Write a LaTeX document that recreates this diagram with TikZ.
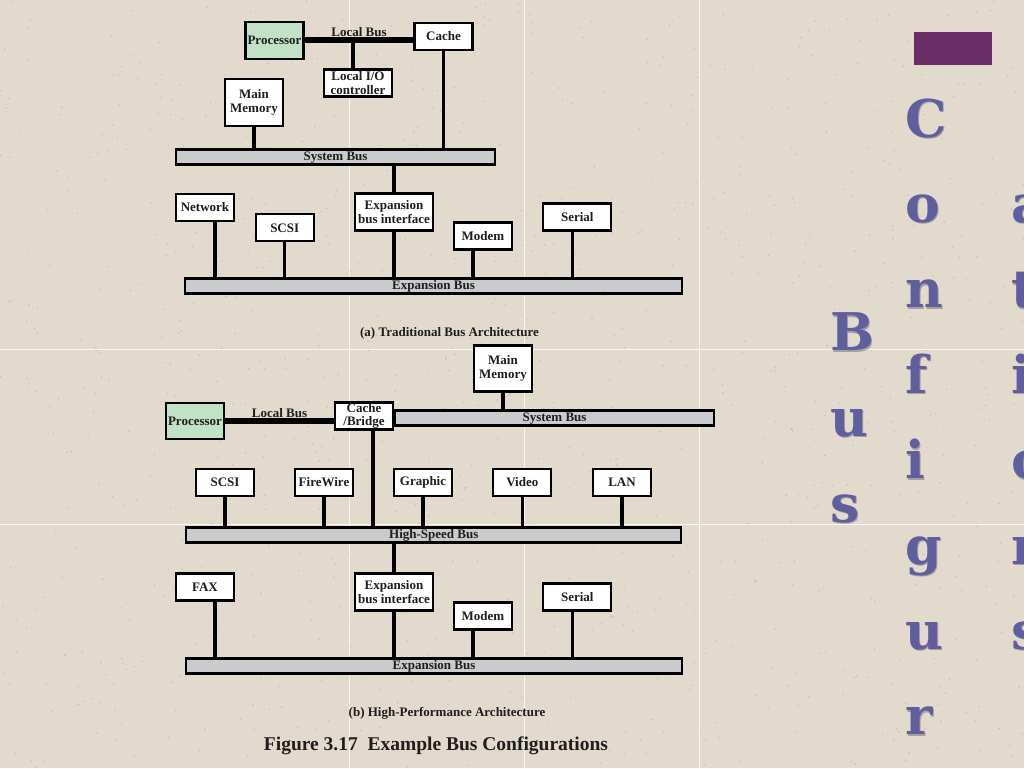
\documentclass[tikz,border=0pt]{standalone}
\usepackage{fontspec}
\setmainfont{Liberation Serif}
\newfontfamily\slabfont{DejaVu Serif}
\usetikzlibrary{positioning}
\definecolor{paper}{RGB}{226,218,205}
\definecolor{speckdark}{RGB}{176,166,152}
\definecolor{cpugreen}{RGB}{194,226,198}
\definecolor{busgray}{RGB}{201,203,205}
\definecolor{plum}{RGB}{106,45,102}
\definecolor{slate}{RGB}{95,95,160}
\definecolor{ink}{RGB}{30,30,30}
\newcommand\labelfont{\bfseries\fontsize{13}{13.5}\selectfont}
\newcommand\titlefont{\bfseries\fontsize{19.5}{22}\selectfont}
\newcommand\letterfont{\slabfont\bfseries\fontsize{52}{60}\selectfont}
\tikzset{
  devbox/.style={
    rectangle,
    draw=black, line width=2.3pt,
    fill=white,
    text=ink,
    font=\labelfont,
    align=center,
    inner sep=0.5pt,
    minimum width=58pt,
    minimum height=27pt},
  cpu/.style={devbox, fill=cpugreen},
  busbar/.style={
    rectangle,
    draw=black, line width=2.2pt,
    fill=busgray,
    text=ink,
    font=\labelfont,
    inner sep=0pt,
    text height=8.5pt, text depth=1pt,
    minimum height=15pt},
  wire/.style={draw=black, line width=3.5pt},
  lbus/.style={draw=black, line width=6pt},
  capt/.style={font=\labelfont, text=ink},
  seam/.style={draw=white, line width=0.8pt, opacity=0.75},
  speck/.style={fill=speckdark, opacity=0.55},
  letter/.style={anchor=base west, inner sep=0pt, font=\letterfont, text=slate},
  lettershade/.style={letter, text=black!70!slate, opacity=0.3},
}
\begin{document}
\begin{tikzpicture}[x=1pt, y=-1pt]
  % the slide
  \fill[paper] (0,0) rectangle (1024,768);
  \clip (0,0) rectangle (1024,768);
  \pgfmathsetseed{17}
  \foreach \i in {1,...,900}
    \fill[speck] ({rnd*1024},{rnd*768}) circle (0.8);
  \foreach \sx in {349,524,699}
    \draw[seam] (\sx,0) -- (\sx,768);
  \foreach \sy in {349,524}
    \draw[seam] (0,\sy) -- (1024,\sy);

  %% (a) traditional
  \node[cpu, minimum height=37pt] (procA) at (274.5,40.5) {Processor};
  \node[devbox] (cacheA) at (443.5,36.5) {Cache};
  \node[devbox, minimum width=68pt] (lioA) at (358,83) {Local I/O\\controller};
  \node[devbox, minimum height=47pt] (memA) at (254,102.5) {Main\\Memory};
  \node[busbar, minimum width=319pt] (sysA) at (335.5,157) {System Bus};
  \node[devbox] (netA) at (205,207.5) {Network};
  \node[devbox] (scsiA) at (284.7,227.8) {SCSI};
  \node[devbox, minimum width=78pt, minimum height=37pt] (expA) at (394,212) {Expansion\\bus interface};
  \node[devbox] (modemA) at (483,236) {Modem};
  \node[devbox, minimum width=68pt] (serA) at (577.3,217) {Serial};
  \node[busbar, minimum width=497pt] (xbusA) at (433.5,286) {Expansion Bus};
  \node[capt, below=29pt of xbusA, xshift=16pt] (capA) {(a) Traditional Bus Architecture};

  \draw[lbus] (procA.east) -- (procA.east -| cacheA.west)
    node[midway, above, inner sep=0.5pt, font=\labelfont, text=ink] {Local Bus};
  \draw[wire] ([xshift=-5pt]lioA.north) -- ([xshift=-5pt]lioA.north |- procA.east);
  \draw[wire] (memA.south) -- (memA.south |- sysA.north);
  \draw[wire] (cacheA.south) -- (cacheA.south |- sysA.north);
  \draw[wire] (sysA.south -| expA.north) -- (expA.north);
  \foreach \n/\dx in {netA/10, scsiA/0, expA/0, modemA/-10, serA/-5}
    \draw[wire] ([xshift=\dx pt]\n.south) -- ([xshift=\dx pt]\n.south |- xbusA.north);

  %% (b) high-performance
  \node[devbox, minimum height=46pt] (memB) at (503,368.5) {Main\\Memory};
  \node[cpu, minimum height=36pt] (procB) at (195,421) {Processor};
  \node[devbox] (cacheB) at (364,416) {Cache\\/Bridge};
  \node[busbar, minimum width=319pt] (sysB) at (554.5,418) {System Bus};
  \foreach \n/\t/\x in {scsiB/SCSI/225, fwB/FireWire/324, grB/Graphic/423, vidB/Video/522.3, lanB/LAN/622}
    \node[devbox] (\n) at (\x,482.5) {\t};
  \node[busbar, minimum width=495pt] (hsB) at (433.8,535) {High-Speed Bus};
  \node[devbox] (faxB) at (205,587) {FAX};
  \node[devbox, minimum width=78pt, minimum height=37pt] (expB) at (394,592) {Expansion\\bus interface};
  \node[devbox] (modemB) at (483,616) {Modem};
  \node[devbox, minimum width=68pt] (serB) at (577.3,597) {Serial};
  \node[busbar, minimum width=496pt] (xbusB) at (434,666) {Expansion Bus};
  \node[capt, below=29pt of xbusB, xshift=13pt] (capB) {(b) High-Performance Architecture};
  \node[font=\titlefont, text=ink, below=11pt of capB, xshift=-11pt] (figT) {Figure 3.17\ \ Example Bus Configurations};

  \draw[lbus] (procB.east) -- (procB.east -| cacheB.west)
    node[midway, above, inner sep=0.5pt, font=\labelfont, text=ink] {Local Bus};
  \draw[wire] (memB.south) -- (memB.south |- sysB.north);
  \draw[wire] ([xshift=9pt]cacheB.south) -- ([xshift=9pt]cacheB.south |- hsB.north);
  \foreach \n in {scsiB, fwB, grB, vidB, lanB}
    \draw[wire] (\n.south) -- (\n.south |- hsB.north);
  \draw[wire] (hsB.south -| expB.north) -- (expB.north);
  \foreach \n/\dx in {faxB/10, expB/0, modemB/-10, serB/-5}
    \draw[wire] ([xshift=\dx pt]\n.south) -- ([xshift=\dx pt]\n.south |- xbusB.north);

  %% slide title, one letter a line
  \fill[plum] (914,32) rectangle (992,65);
  \foreach \ch [count=\k from 0] in {C,o,n,f,i,g,u,r} {
    \node[lettershade] at ({906.5},{138.5+85.4*\k}) {\ch};
    \node[letter] at ({905},{137+85.4*\k}) {\ch};
  }
  \foreach \ch [count=\k from 0] in {B,u,s} {
    \node[lettershade] at ({831.5},{352+85.8*\k}) {\ch};
    \node[letter] at ({830},{350.5+85.8*\k}) {\ch};
  }
  \foreach \ch [count=\k from 1] in {a,t,i,o,n,s} {
    \node[lettershade] at ({1012.5},{138.5+85.4*\k}) {\ch};
    \node[letter] at ({1011},{137+85.4*\k}) {\ch};
  }
\end{tikzpicture}
\end{document}
